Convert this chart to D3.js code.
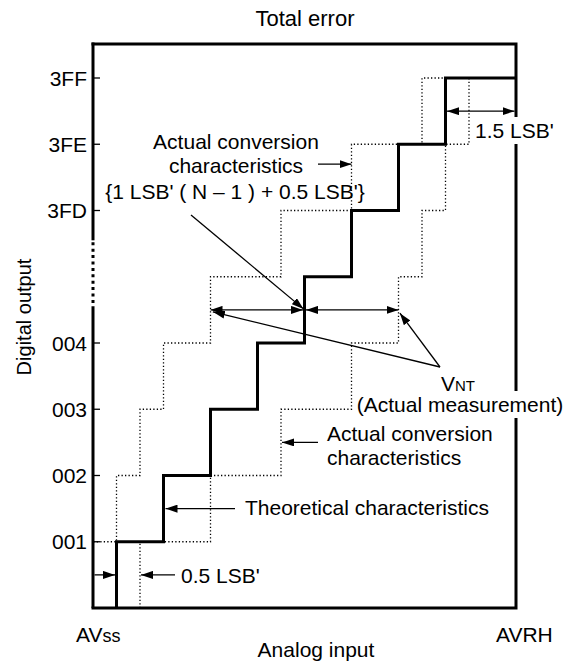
<!DOCTYPE html>
<html><head><meta charset="utf-8">
<script src="https://cdn.jsdelivr.net/npm/d3@7"></script>
<style>
body{margin:0;background:#fff}
text{font-family:"Liberation Sans",Arial,Helvetica,sans-serif;font-size:21px;fill:#000}
</style>
</head><body>
<svg id="c" width="565" height="665"></svg>
<script>
// ---- data ----
const levelLabels = ["", "001", "002", "003", "004", "", "3FD", "3FE", "3FF"];
const theoreticalSteps = [0.5, 1.5, 2.5, 3.5, 4.5, 5.5, 6.5, 7.5];
const actualEarlySteps = [0, 0.5, 1.0, 1.5, 2.5, 4.0, 5.5, 7.0];
const actualLateSteps  = [1.0, 2.5, 4.0, 5.5, 6.5, 7.0, 7.5, 8.0];
const axisBreak = [4.53, 5.55];
const fullScale = 9;
const xEndLabels = ["AVss", "AVRH"];
const titleText = "Total error";
const xTitle = "Analog input";
const yTitle = "Digital output";

// ---- scales ----
const svg = d3.select("#c");
const x = d3.scaleLinear().domain([0, fullScale]).range([93, 516]);
const y = d3.scaleLinear().domain([0, 8]).range([608, 78]);
const topY = 44;

const defs = svg.append("defs");
defs.append("marker").attr("id", "arr")
  .attr("viewBox", "0 0 12 8").attr("refX", 12).attr("refY", 4)
  .attr("markerWidth", 12).attr("markerHeight", 8)
  .attr("markerUnits", "userSpaceOnUse").attr("orient", "auto-start-reverse")
  .append("path").attr("d", "M0,0 L12,4 L0,8 Z").attr("fill", "#000");

const line = d3.line().x(d => x(d[0])).y(d => y(d[1]));
function stairs(steps) {
  const pts = [];
  steps.forEach((s, k) => { pts.push([s, k]); pts.push([s, k + 1]); });
  pts.push([fullScale, steps.length]);
  return pts;
}

// dotted actual characteristics
[actualEarlySteps, actualLateSteps].forEach(st => {
  svg.append("path").attr("d", line(stairs(st)))
    .attr("fill", "none").attr("stroke", "#000").attr("stroke-width", 1.3)
    .attr("stroke-dasharray", "1.3,2.2");
});
// theoretical
svg.append("path").attr("d", line(stairs(theoreticalSteps)))
  .attr("fill", "none").attr("stroke", "#000").attr("stroke-width", 3);

// frame
svg.append("path")
  .attr("d", `M${x(0)},${topY} L${x(fullScale)},${topY} L${x(fullScale)},${y(0)} L${x(0)},${y(0)}`)
  .attr("fill", "none").attr("stroke", "#000").attr("stroke-width", 3).attr("stroke-linecap", "square");
svg.append("line").attr("x1", x(0)).attr("x2", x(0)).attr("y1", topY - 1.5).attr("y2", y(axisBreak[1]))
  .attr("stroke", "#000").attr("stroke-width", 3);
svg.append("line").attr("x1", x(0)).attr("x2", x(0)).attr("y1", y(axisBreak[0])).attr("y2", y(0))
  .attr("stroke", "#000").attr("stroke-width", 3);
svg.append("line").attr("x1", x(0)).attr("x2", x(0)).attr("y1", y(axisBreak[1]) + 2).attr("y2", y(axisBreak[0]))
  .attr("stroke", "#000").attr("stroke-width", 3).attr("stroke-dasharray", "3,3.4");

// y ticks + labels
levelLabels.forEach((lab, i) => {
  if (!lab) return;
  svg.append("line").attr("x1", x(0)).attr("x2", x(0) + 7).attr("y1", y(i)).attr("y2", y(i))
    .attr("stroke", "#000").attr("stroke-width", 1.3);
  svg.append("text").attr("x", x(0) - 6).attr("y", y(i) + 7.5).attr("text-anchor", "end").text(lab);
});

// titles
svg.append("text").attr("x", 305).attr("y", 26).attr("text-anchor", "middle").style("font-size", "22px").text(titleText);
svg.append("text").attr("x", 316).attr("y", 657).attr("text-anchor", "middle").text(xTitle);
svg.append("text").attr("transform", "translate(31,317) rotate(-90)").attr("text-anchor", "middle")
  .style("font-size", "20px").text(yTitle);
const avss = svg.append("text").attr("x", 76).attr("y", 642);
avss.append("tspan").text(xEndLabels[0].slice(0, 2));
avss.append("tspan").style("font-size", "18px").text(xEndLabels[0].slice(2));
svg.append("text").attr("x", 496).attr("y", 642).text(xEndLabels[1]);

// helpers
function arrow(x1, y1, x2, y2, start, end) {
  const l = svg.append("line").attr("x1", x1).attr("y1", y1).attr("x2", x2).attr("y2", y2)
    .attr("stroke", "#000").attr("stroke-width", 1.3);
  if (end) l.attr("marker-end", "url(#arr)");
  if (start) l.attr("marker-start", "url(#arr)");
}
function boxedText(tx, ty, str, anchor, pad) {
  const g = svg.append("g");
  const r = g.append("rect").attr("fill", "#fff");
  const t = g.append("text").attr("x", tx).attr("y", ty).attr("text-anchor", anchor || "start");
  t.text(str);
  const b = t.node().getBBox();
  const p = pad || 1;
  r.attr("x", b.x - p).attr("y", b.y - p).attr("width", b.width + 2 * p).attr("height", b.height + 2 * p);
  return t;
}
function twoLines(tx, ty, lines, anchor) {
  const t = svg.append("text").attr("text-anchor", anchor || "start");
  lines.forEach((s, i) => t.append("tspan").attr("x", tx).attr("y", ty + i * 24).text(s));
  return t;
}

// 1.5 LSB'
arrow(x(7.5) + 1.5, y(7.5), x(fullScale) - 1.5, y(7.5), true, true);
boxedText(475, 138, "1.5 LSB'", "start", 2);

// upper actual conversion label
twoLines(236, 149, ["Actual conversion", "characteristics"], "middle");
arrow(318, y(6.7), x(5.5), y(6.7), false, true);

// formula label + leader
svg.append("text").attr("x", 235).attr("y", 199).attr("text-anchor", "middle").text("{1 LSB' ( N \u2013 1 ) + 0.5 LSB'}");
arrow(191, 215, x(4.5) - 1, y(4.5) - 1, false, true);

// horizontal measurement arrows
arrow(x(2.5), y(4.5), x(4.5) - 1.5, y(4.5), true, true);
arrow(x(4.5) + 1.5, y(4.5), x(6.5), y(4.5), true, true);

// VNT
arrow(440, 367, x(2.55), y(4.47), false, true);
arrow(440, 367, x(6.53), y(4.45), false, true);
const vnt = svg.append("text").attr("x", 458).attr("y", 391).attr("text-anchor", "middle");
vnt.append("tspan").text("V");
vnt.append("tspan").style("font-size", "15px").text("NT");
boxedText(460, 412, "(Actual measurement)", "middle", 2);

// lower actual conversion label
twoLines(327, 441, ["Actual conversion", "characteristics"], "start");
arrow(318, y(2.5), x(4.0) + 1, y(2.5), false, true);

// theoretical label
svg.append("text").attr("x", 245).attr("y", 515).text("Theoretical characteristics");
arrow(235, y(1.5), x(1.5) + 2, y(1.5), false, true);

// 0.5 LSB'
svg.append("text").attr("x", 181).attr("y", 583).text("0.5 LSB'");
arrow(175, y(0.5), x(1.0) + 1, y(0.5), false, true);
arrow(x(0) + 1.5, y(0.5), x(0.5) - 1.5, y(0.5), false, true);
</script>
</body></html>
